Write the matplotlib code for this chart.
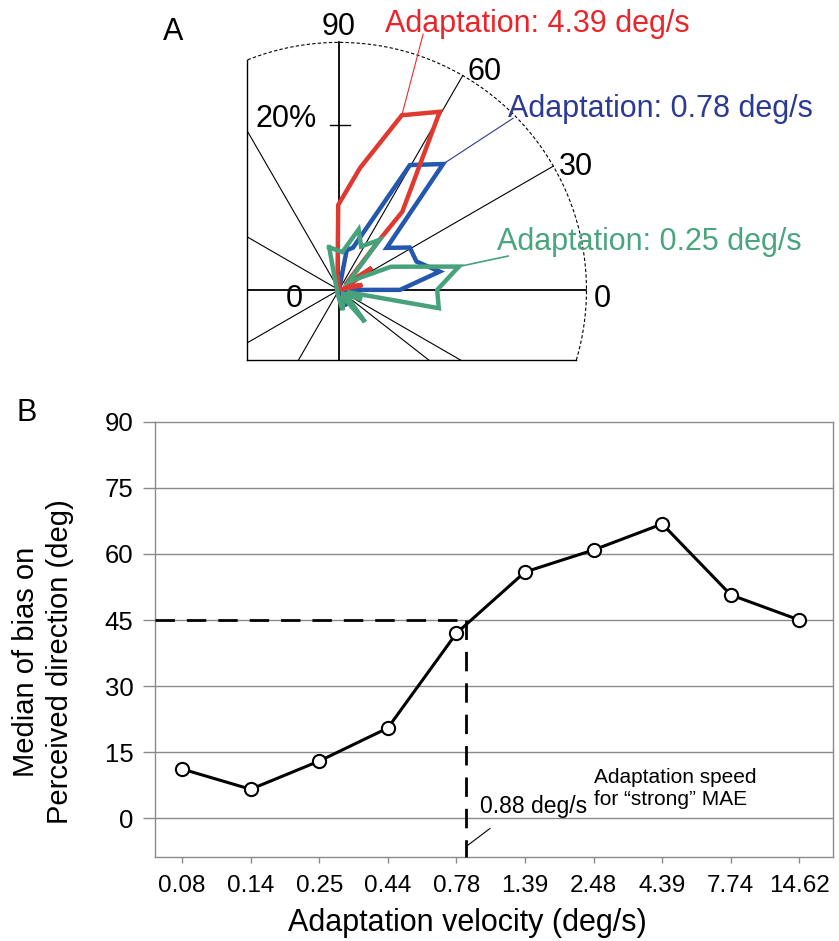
import numpy as np
import matplotlib.pyplot as plt

plt.rcParams['font.family'] = ['Liberation Sans', 'DejaVu Sans']

# ---- panel A: distributions of perceived direction (direction in deg, % of trials)
red_dir = [0, 95, 90.5, 80.2, 70.2, 60.5, 51, 51, 40, 34, 20, 12, 0]
red_pct = [0, 2.0, 10.3, 15.0, 22.5, 24.8, 12.2, 7.8, 1.0, 4.8, 1.0, 2.9, 0]

blue_dir = [0, 79, 71.6, 60.4, 50.4, 41.4, 30.9, 20.1, 10.3, 0, 0, -65, 0]
blue_pct = [0, 4.9, 5.4, 17.4, 19.8, 7.7, 10.0, 10.0, 12.4, 7.4, 0, 2.2, 0]

green_dir = [103, 85, 72, 63, 51, 40, 24, 11, 0, -10.4, -15, -23, -35, -51, -60, -80, -110]
green_pct = [5.3, 4.6, 7.7, 5.9, 7.8, 1.5, 6.9, 14.8, 11.9, 12.3, 1.0, 3.0, 1.0, 5.0, 1.0, 2.5, 0.5]

spoke_dirs = [0, 30, 60, 90, 120, 150, 180, 210, 240, 270, 322, 330]
r_max = 30

# ---- panel B: median bias vs adaptation speed
speed_labels = ['0.08', '0.14', '0.25', '0.44', '0.78', '1.39', '2.48', '4.39', '7.74', '14.62']
median_bias = [11.2, 6.6, 13.0, 20.5, 42.0, 55.9, 60.9, 66.8, 50.7, 45.0]
strong_pos = 4.14   # 0.88 deg/s on the category axis
strong_bias = 45

RED = '#e03a30'
BLUE = '#2457ae'
GREEN = '#47a27c'
GRAY = '#8a8a8a'


def to_xy(dirs, pct):
    a = np.radians(dirs)
    p = np.asarray(pct, dtype=float)
    return p * np.cos(a), p * np.sin(a)


fig = plt.figure(figsize=(8.39, 9.41), dpi=100)

# ================= A =================
xmin, xmax, ymin, ymax = -11.15, 30.5, -8.5, 30.5
axA = fig.add_axes([247/839, 1-360/941, (xmax-xmin)*8.25/839, (ymax-ymin)*8.25/941])
axA.set_xlim(xmin, xmax)
axA.set_ylim(ymin, ymax)
axA.axis('off')

for d in spoke_dirs:
    lw = 1.3 if d % 90 == 0 else 0.8
    axA.plot([0, r_max*np.cos(np.radians(d))], [0, r_max*np.sin(np.radians(d))],
             color='black', lw=lw, zorder=1)

# frame: left / bottom edges cut by the outer circle, dashed outer arc
top_left = np.sqrt(r_max**2 - xmin**2)
right_bot = np.sqrt(r_max**2 - ymin**2)
axA.plot([xmin, xmin], [ymin, top_left], color='black', lw=1.0, clip_on=False)
axA.plot([xmin, right_bot], [ymin, ymin], color='black', lw=1.0, clip_on=False)
t = np.linspace(np.arcsin(ymin/r_max), np.arccos(xmin/r_max), 200)
axA.plot(r_max*np.cos(t), r_max*np.sin(t), color='black', lw=0.8,
         ls=(0, (3, 2)), clip_on=False)
axA.plot([-1.1, 1.3], [20, 20], color='black', lw=1.0)

for dirs, pct, col in [(blue_dir, blue_pct, BLUE), (red_dir, red_pct, RED),
                       (green_dir, green_pct, GREEN)]:
    x, y = to_xy(dirs, pct)
    x = np.append(x, x[0])
    y = np.append(y, y[0])
    axA.plot(x, y, color=col, lw=3.2, solid_joinstyle='miter', zorder=3)

# leader lines to labels
rx, ry = to_xy([red_dir[4]], [red_pct[4]])
axA.plot([rx[0], 10.2], [ry[0], 31.0], color='#ee2a2a', lw=0.8, clip_on=False)
bx, by = to_xy([blue_dir[4]], [blue_pct[4]])
axA.plot([bx[0], 21.1], [by[0], 20.8], color='#2b3a93', lw=0.8, clip_on=False)
gx, gy = to_xy([green_dir[7]], [green_pct[7]])
axA.plot([gx[0], 20.5], [gy[0], 4.1], color=GREEN, lw=1.2, clip_on=False)

fsA = 22
axA.text(5.58, 31.3, 'Adaptation: 4.39 deg/s', color='#ea2428', fontsize=fsA, va='baseline')
axA.text(20.5, 21.0, 'Adaptation: 0.78 deg/s', color='#2b3a93', fontsize=fsA, va='baseline')
axA.text(19.2, 4.85, 'Adaptation: 0.25 deg/s', color='#4aa57f', fontsize=fsA, va='baseline')
axA.text(-0.1, 30.9, '90', fontsize=fsA, ha='center', va='baseline')
axA.text(17.6, 25.5, '60', fontsize=fsA, ha='center', va='baseline')
axA.text(28.7, 13.9, '30', fontsize=fsA, ha='center', va='baseline')
axA.text(31.9, -2.06, '0', fontsize=fsA, ha='center', va='baseline')
axA.text(-5.4, -2.06, '0', fontsize=fsA, ha='center', va='baseline')
axA.text(-6.4, 19.8, '20%', fontsize=fsA, ha='center', va='baseline')
fig.text(173/839, 1-40/941, 'A', fontsize=22, ha='center', va='baseline')

# ================= B =================
axB = fig.add_axes([155/839, 1-856.7/941, 678/839, 435/941])
pos = np.arange(len(speed_labels))
axB.set_xlim(-0.394, 9.49)
axB.set_ylim(-8.7, 90)
for v in range(0, 90, 15):
    axB.axhline(v, color=GRAY, lw=1.0, zorder=0)
axB.plot(pos, median_bias, '-o', color='black', lw=2.2, ms=9.5, mfc='white',
         mec='black', mew=1.5, zorder=5)

dash = (0, (7, 4.3))
axB.plot([-0.394, strong_pos], [strong_bias, strong_bias], color='black', lw=2,
         ls=dash, zorder=4)
axB.plot([strong_pos, strong_pos], [strong_bias, -8.7], color='black', lw=2,
         ls=dash, zorder=4, clip_on=False)
axB.plot([strong_pos, 4.49], [-6.4, -2.3], color='black', lw=0.8)
axB.text(4.344, 1.2, '0.88 deg/s', fontsize=16.5, va='baseline')
axB.text(6.0, 7.94, 'Adaptation speed', fontsize=15, va='baseline')
axB.text(6.0, 3.0, 'for \u201cstrong\u201d MAE', fontsize=15, va='baseline')

axB.set_yticks(range(0, 91, 15))
axB.set_xticks(pos, speed_labels)
for s in axB.spines.values():
    s.set_color(GRAY)
    s.set_linewidth(1.0)
axB.tick_params(axis='y', length=8.5, width=1, color=GRAY, pad=7, labelsize=18.5)
axB.tick_params(axis='x', length=4, width=1, color=GRAY, pad=9, labelsize=17.5)

fig.text(467.5/839, 1-931/941, 'Adaptation velocity (deg/s)', fontsize=22,
         ha='center', va='baseline')
fig.text(43/839, 1-662/941, 'Median of bias on\nPerceived direction (deg)',
         fontsize=21, rotation=90, ha='center', va='center', linespacing=1.3)
fig.text(27/839, 1-421/941, 'B', fontsize=22, ha='center', va='baseline')

fig.savefig('out.png', dpi=100)
